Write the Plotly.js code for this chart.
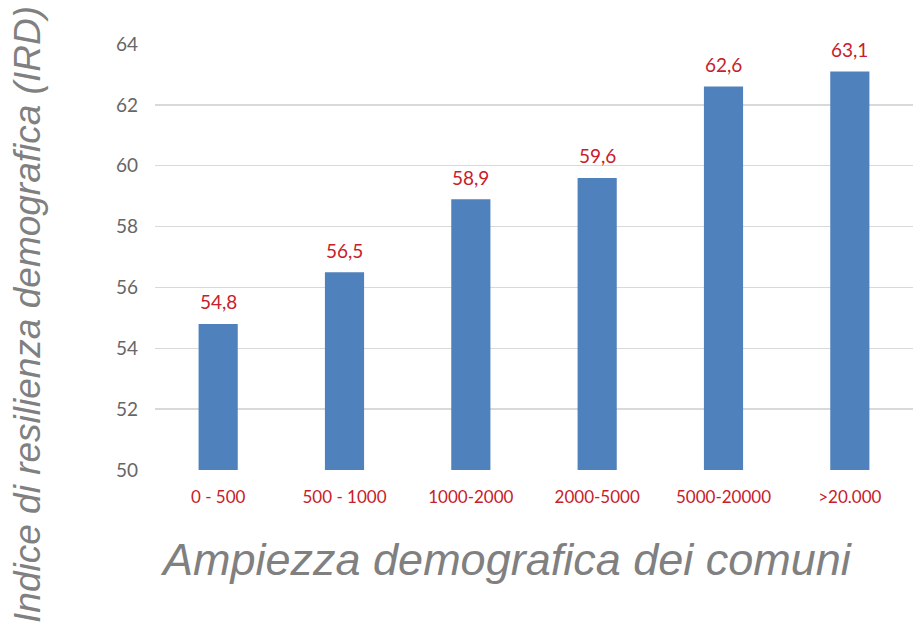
<!DOCTYPE html>
<html>
<head>
<meta charset="utf-8">
<script src="https://cdn.plot.ly/plotly-3.0.1.min.js"></script>
<style>html,body{margin:0;padding:0;background:#fff;}#chart{width:913px;height:631px;}</style>
</head>
<body>
<div id="chart"></div>
<script>
const categories = ["0 - 500", "500 - 1000", "1000-2000", "2000-5000", "5000-20000", ">20.000"];
const values = [54.8, 56.5, 58.9, 59.6, 62.6, 63.1];
const yTicks = [50, 52, 54, 56, 58, 60, 62, 64];
const yTitle = "Indice di resilienza demografica (IRD)";
const xTitle = "Ampiezza demografica dei comuni";
const baseValue = 50;

const fmt = v => v.toFixed(1).replace(".", ",");
const tickFont = "Lato, 'Open Sans', sans-serif";
const titleFont = "'Liberation Sans', Arial, sans-serif";
const red = "#C8202A";

const trace = {
  type: "bar",
  x: categories,
  y: values.map(v => v - baseValue),
  base: baseValue,
  marker: {color: "#4F81BD"},
  hoverinfo: "none"
};

const annotations = categories.map((c, i) => ({
  x: c, y: values[i], xref: "x", yref: "y",
  text: fmt(values[i]), showarrow: false,
  yshift: 22,
  font: {family: tickFont, size: 19, color: red}
}));

annotations.push({
  xref: "paper", yref: "paper", x: 0, y: 0.364, xshift: -127,
  xanchor: "center", yanchor: "middle", textangle: -90,
  text: yTitle, showarrow: false,
  font: {family: titleFont, size: 37, color: "#808080", style: "italic"}
});
annotations.push({
  xref: "paper", yref: "paper", x: 0.464, y: -0.211,
  xanchor: "center", yanchor: "middle",
  text: xTitle, showarrow: false,
  font: {family: titleFont, size: 45, color: "#808080", style: "italic"}
});

const layout = {
  width: 913, height: 631,
  margin: {l: 155, r: 0, t: 44, b: 161},
  paper_bgcolor: "#fff", plot_bgcolor: "#fff",
  showlegend: false,
  bargap: 0.69,
  xaxis: {
    type: "category",
    tickfont: {family: tickFont, size: 17, color: red},
    ticks: "", showgrid: false, showline: false, zeroline: false,
    ticklabelstandoff: 15
  },
  yaxis: {
    range: [50, 64],
    tickvals: yTicks,
    tickfont: {family: tickFont, size: 19, color: "#666666"},
    showgrid: true, gridcolor: "#D9D9D9", gridwidth: 1.5,
    zeroline: false, showline: false, ticks: "",
    ticklabelstandoff: 16
  },
  annotations: annotations
};

Plotly.newPlot("chart", [trace], layout, {displayModeBar: false, staticPlot: true});
</script>
</body>
</html>
